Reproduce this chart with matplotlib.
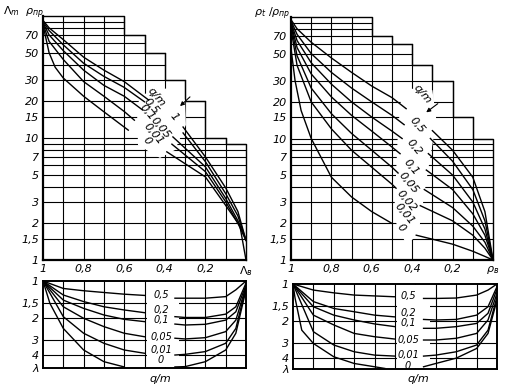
import matplotlib.pyplot as plt
from matplotlib.patches import Polygon

plt.rcParams['font.family'] = ['DejaVu Sans']
plt.rcParams['mathtext.fontset'] = 'dejavusans'

W, H = 507, 389

# ---------------- data ----------------
# top-left: Lambda_m, rho_pr vs q/m  (left branch / right branch)
tl_labels = ['0,5', '0,1', '0,05', '0,01', '0']
tl_left_x = [[1, 0.97, 0.9, 0.8, 0.7, 0.6, 0.48],
             [1, 0.97, 0.9, 0.8, 0.7, 0.6, 0.5],
             [1, 0.97, 0.9, 0.8, 0.7, 0.6, 0.51],
             [1, 0.97, 0.9, 0.8, 0.7, 0.6, 0.55],
             [1, 0.97, 0.94, 0.9, 0.8, 0.7, 0.58]]
tl_left_y = [[92, 80, 64, 46, 36, 29, 20.5],
             [90, 76, 58, 41, 32, 26, 19.8],
             [88, 70, 52, 36, 27, 22, 17],
             [86, 62, 44, 29, 22, 16.5, 14],
             [84, 50, 38, 31, 22, 16.4, 11.6]]
tl_right_x = [[0.31, 0.2, 0.1, 0.04, 0],
              [0.31, 0.2, 0.1, 0.04, 0],
              [0.36, 0.2, 0.1, 0.04, 0],
              [0.365, 0.2, 0.1, 0.04, 0],
              [0.39, 0.2, 0.1, 0.03, 0]]
tl_right_y = [[12.3, 7.0, 3.9, 2.5, 1.45],
              [11.0, 6.4, 3.5, 2.3, 1.45],
              [10.2, 5.8, 3.2, 2.1, 1.45],
              [8.9, 5.3, 3.0, 2.0, 1.45],
              [7.7, 4.8, 2.8, 1.9, 1.0]]

# top-right: rho_t / rho_pr vs q/m
tr_labels = ['0,5', '0,2', '0,1', '0,05', '0,02', '0,01', '0']
tr_left_x = [[1, 0.97, 0.9, 0.8, 0.7, 0.6, 0.5, 0.43],
             [1, 0.97, 0.9, 0.8, 0.7, 0.6, 0.5, 0.44],
             [1, 0.97, 0.9, 0.8, 0.7, 0.6, 0.5, 0.45],
             [1, 0.97, 0.9, 0.8, 0.7, 0.6, 0.5, 0.46],
             [1, 0.97, 0.9, 0.8, 0.7, 0.6, 0.5, 0.47],
             [1, 0.97, 0.9, 0.8, 0.7, 0.6, 0.5, 0.48],
             [1, 0.98, 0.95, 0.9, 0.8, 0.7, 0.6, 0.5]]
tr_left_y = [[95, 80, 62, 46, 35, 27, 21.7, 17.6],
             [93, 72, 50, 35, 26, 20, 15.5, 13],
             [91, 64, 42, 28, 20, 15, 11.5, 10],
             [89, 56, 34, 22, 15.5, 11.5, 8.5, 7.5],
             [86, 48, 26, 16, 11, 8, 5.8, 5.2],
             [80, 40, 20, 12, 8, 5.8, 4.2, 3.9],
             [55, 30, 17, 10, 4.8, 3.3, 2.5, 2.0]]
tr_right_x = [[0.30, 0.2, 0.1, 0.04, 0],
              [0.31, 0.2, 0.1, 0.04, 0],
              [0.32, 0.2, 0.1, 0.04, 0],
              [0.33, 0.2, 0.1, 0.04, 0],
              [0.34, 0.2, 0.1, 0.04, 0],
              [0.36, 0.2, 0.1, 0.04, 0],
              [0.38, 0.2, 0.1, 0.04, 0]]
tr_right_y = [[11.6, 8.0, 4.8, 2.5, 1.0],
              [10, 6.5, 3.8, 2.1, 1.0],
              [7.5, 5.0, 3.0, 1.8, 1.0],
              [5.5, 3.8, 2.4, 1.6, 1.0],
              [3.8, 2.7, 1.9, 1.4, 1.0],
              [2.8, 2.1, 1.6, 1.25, 1.0],
              [1.6, 1.35, 1.18, 1.07, 1.0]]

# bottom panels: lambda vs q/m
b_labels = ['0,5', '0,2', '0,1', '0,05', '0,01', '0']
bl_left_x = [1, 0.9, 0.8, 0.7, 0.6, 0.5]
bl_right_x = [0.35, 0.3, 0.2, 0.1, 0.05, 0]
bl_left_y = [[1.0, 1.15, 1.2, 1.24, 1.28, 1.31],
             [1.0, 1.30, 1.47, 1.62, 1.72, 1.81],
             [1.0, 1.43, 1.67, 1.89, 2.05, 2.14],
             [1.0, 1.62, 2.01, 2.35, 2.66, 2.84],
             [1.0, 1.95, 2.66, 3.21, 3.64, 3.87]]
bl_right_y = [[1.38, 1.38, 1.38, 1.34, 1.18, 1.0],
              [1.95, 1.98, 1.98, 1.86, 1.62, 1.04],
              [2.24, 2.28, 2.25, 2.08, 1.78, 1.08],
              [2.92, 2.96, 2.89, 2.58, 2.08, 1.11],
              [4.0, 3.95, 3.75, 3.21, 2.43, 1.13],
              [5.0, 4.97, 4.53, 3.64, 2.66, 1.18]]
bl_zero_x = [1, 0.966, 0.9, 0.8, 0.7, 0.6]
bl_zero_y = [1.0, 1.52, 2.43, 3.64, 4.53, 5.0]

br_left_x = [1, 0.9, 0.8, 0.7, 0.6, 0.5]
br_right_x = [0.36, 0.3, 0.2, 0.1, 0.044, 0]
br_left_y = [[1.0, 1.12, 1.18, 1.23, 1.25, 1.27],
             [1.0, 1.39, 1.58, 1.68, 1.79, 1.85],
             [1.0, 1.53, 1.79, 1.96, 2.11, 2.22],
             [1.0, 1.79, 2.15, 2.52, 2.68, 2.80],
             [1.0, 2.44, 3.13, 3.55, 3.78, 3.85]]
br_right_y = [[1.31, 1.31, 1.30, 1.23, 1.12, 1.0],
              [1.94, 1.96, 1.94, 1.79, 1.53, 1.05],
              [2.29, 2.29, 2.22, 2.09, 1.73, 1.1],
              [2.85, 2.85, 2.76, 2.52, 1.96, 1.19],
              [3.85, 3.78, 3.55, 3.13, 2.37, 1.27],
              [4.7, 4.42, 4.0, 3.34, 2.52, 1.35]]
br_zero_x = [1, 0.99, 0.957, 0.9, 0.8, 0.7, 0.6, 0.55]
br_zero_y = [1.0, 1.3, 2.37, 3.04, 3.9, 4.42, 4.7, 4.85]

# grid / staircase outline
grid_h_top = [1.5, 2, 3, 4, 5, 6, 7, 8, 9, 10, 15, 20, 30, 40, 50, 60, 70, 80, 90]
grid_v = [0.9, 0.8, 0.7, 0.6, 0.5, 0.4, 0.3, 0.2, 0.1]
stair_x = [1, 0.6, 0.5, 0.4, 0.3, 0.2, 0.1, 0]
tl_stair_top = [100, 70, 50, 30, 20, 10, 9]
tr_stair_top = [100, 70, 60, 40, 30, 15, 10]
grid_h_bot = [1.5, 2, 3, 4]

top_yticks = [1, 1.5, 2, 3, 5, 7, 10, 15, 20, 30, 50, 70]
top_ylabels = ['1', '1,5', '2', '3', '5', '7', '10', '15', '20', '30', '50', '70']
bot_yticks = [1, 1.5, 2, 3, 4]
bot_ylabels = ['1', '1,5', '2', '3', '4']
xticks = [1, 0.8, 0.6, 0.4, 0.2, 0]
xlabels_l = ['1', '0,8', '0,6', '0,4', '0,2', r'$\Lambda_в$']
xlabels_r = ['1', '0,8', '0,6', '0,4', '0,2', r'$\rho_в$']

# ---------------- figure ----------------
fig = plt.figure(figsize=(W / 100, H / 100), dpi=100)


def box(x0, y0, x1, y1):
    return [x0 / W, 1 - y1 / H, (x1 - x0) / W, (y1 - y0) / H]


def fp(px, py):
    return (px / W, 1 - py / H)


ax_tl = fig.add_axes(box(43, 16, 246, 260))
ax_bl = fig.add_axes(box(43, 281, 246, 368))
ax_tr = fig.add_axes(box(291, 17, 493, 260))
ax_br = fig.add_axes(box(293, 284, 497, 369))

LW_GRID = 0.8
LW_CURVE = 1.0
TXT = dict(fontsize=8, style='italic')
TXT_S = dict(fontsize=7, style='italic')


def top_setup(ax, stair_top, xlabels):
    ax.set_yscale('log')
    ax.set_xlim(1, 0)
    ax.set_ylim(1, 100)
    for s in ['top', 'right']:
        ax.spines[s].set_visible(False)
    for s in ['left', 'bottom']:
        ax.spines[s].set_linewidth(1.6)
    # horizontal grid lines clipped by the staircase
    for h in grid_h_top:
        j = max(i for i, t in enumerate(stair_top) if t >= h)
        ax.plot([1, stair_x[j + 1]], [h, h], color='k', lw=LW_GRID, zorder=1)
    for v in grid_v:
        i = [k for k in range(len(stair_top)) if stair_x[k] > v >= stair_x[k + 1]][0]
        ax.plot([v, v], [1, stair_top[i]], color='k', lw=LW_GRID, zorder=1)
    ox, oy = [], []
    for i, t in enumerate(stair_top):
        ox += [stair_x[i], stair_x[i + 1]]
        oy += [t, t]
    ox.append(0)
    oy.append(1)
    ax.plot(ox, oy, color='k', lw=LW_GRID + 0.2, zorder=1, clip_on=False)
    ax.set_yticks(top_yticks)
    ax.set_yticklabels(top_ylabels, **TXT)
    ax.set_yticks([], minor=True)
    ax.set_xticks(xticks)
    ax.set_xticklabels(xlabels, **TXT)
    ax.tick_params(length=0, pad=3)


def bot_setup(ax, ybot):
    ax.set_yscale('log')
    ax.set_xlim(1, 0)
    ax.set_ylim(ybot, 1)
    for s in ax.spines.values():
        s.set_linewidth(1.4)
    for h in grid_h_bot:
        ax.axhline(h, color='k', lw=LW_GRID, zorder=1)
    for v in grid_v:
        ax.axvline(v, color='k', lw=LW_GRID, zorder=1)
    ax.set_yticks(bot_yticks + [ybot])
    ax.set_yticklabels(bot_ylabels + ['λ'], **TXT)
    ax.set_yticks([], minor=True)
    ax.set_xticks([])
    ax.tick_params(length=0, pad=3)
    # gap for the curve labels
    ax.add_patch(Polygon([(0.49, 1.02), (0.33, 1.02), (0.33, ybot * 0.98), (0.49, ybot * 0.98)],
                         closed=True, fc='white', ec='none', zorder=2))


top_setup(ax_tl, tl_stair_top, xlabels_l)
top_setup(ax_tr, tr_stair_top, xlabels_r)
bot_setup(ax_bl, 5.1)
bot_setup(ax_br, 4.9)

# white label gaps in the top panels
ax_tl.add_patch(Polygon([(0.522, 22.5), (0.384, 25.7), (0.30, 20.5), (0.296, 12.8),
                         (0.35, 7.97), (0.424, 6.86), (0.532, 8.76), (0.537, 17)],
                        closed=True, fc='white', ec='none', zorder=2))
ax_tr.add_patch(Polygon([(0.45, 26), (0.30, 25), (0.28, 14), (0.33, 4.5), (0.37, 1.6),
                         (0.43, 1.35), (0.49, 2.2), (0.47, 12)],
                        closed=True, fc='white', ec='none', zorder=2))

for xs, ys in zip(tl_left_x, tl_left_y):
    ax_tl.plot(xs, ys, color='k', lw=LW_CURVE, zorder=3)
for xs, ys in zip(tl_right_x, tl_right_y):
    ax_tl.plot(xs, ys, color='k', lw=LW_CURVE, zorder=3, clip_on=False)
for xs, ys in zip(tr_left_x, tr_left_y):
    ax_tr.plot(xs, ys, color='k', lw=LW_CURVE, zorder=3)
for xs, ys in zip(tr_right_x, tr_right_y):
    ax_tr.plot(xs, ys, color='k', lw=LW_CURVE, zorder=3, clip_on=False)

for ys in bl_left_y:
    ax_bl.plot(bl_left_x, ys, color='k', lw=LW_CURVE, zorder=3)
for ys in bl_right_y:
    ax_bl.plot(bl_right_x, ys, color='k', lw=LW_CURVE, zorder=3)
ax_bl.plot(bl_zero_x, bl_zero_y, color='k', lw=LW_CURVE, zorder=3)
for ys in br_left_y:
    ax_br.plot(br_left_x, ys, color='k', lw=LW_CURVE, zorder=3)
for ys in br_right_y:
    ax_br.plot(br_right_x, ys, color='k', lw=LW_CURVE, zorder=3)
ax_br.plot(br_zero_x, br_zero_y, color='k', lw=LW_CURVE, zorder=3)

# ---------------- texts ----------------
fig.text(*fp(24, 13), r'$\Lambda_m\ \ \rho_{пр}$', ha='center', va='center', fontsize=8)
fig.text(*fp(272, 14), r'$\rho_t\ /\rho_{пр}$', ha='center', va='center', fontsize=8)

rot = -50
for s, (px, py) in zip(['q/m', '0,5', '0,1', '1', '0,05', '0,01', '0'],
                       [(156, 97), (151, 106), (147, 112), (174, 117), (160, 128), (153, 134), (147, 141)]):
    fig.text(*fp(px, py), s, rotation=rot, ha='center', va='center', **TXT)
for s, (px, py) in zip(['q/m'] + tr_labels,
                       [(422, 94), (417, 125), (414, 147), (411, 167), (408, 183), (406, 201), (404, 214), (401, 228)]):
    fig.text(*fp(px, py), s, rotation=rot, ha='center', va='center', **TXT)

fig.add_artist(plt.Annotation('', xy=fp(178, 108), xytext=fp(192, 95),
                              xycoords='figure fraction', textcoords='figure fraction',
                              arrowprops=dict(arrowstyle='-|>', lw=0.8, color='k', mutation_scale=6)))
fig.add_artist(plt.Annotation('', xy=fp(424, 114), xytext=fp(440, 102),
                              xycoords='figure fraction', textcoords='figure fraction',
                              arrowprops=dict(arrowstyle='-|>', lw=0.8, color='k', mutation_scale=6)))

for s, py in zip(b_labels, [295, 310, 320, 337, 350, 360]):
    fig.text(*fp(161, py), s, ha='center', va='center', **TXT_S)
for s, py in zip(b_labels, [296, 313, 323, 340, 355, 366]):
    fig.text(*fp(408, py), s, ha='center', va='center', **TXT_S)

fig.text(*fp(160, 379), 'q/m', ha='center', va='center', **TXT)
fig.text(*fp(418, 379), 'q/m', ha='center', va='center', **TXT)

fig.savefig('out.png', dpi=100)
